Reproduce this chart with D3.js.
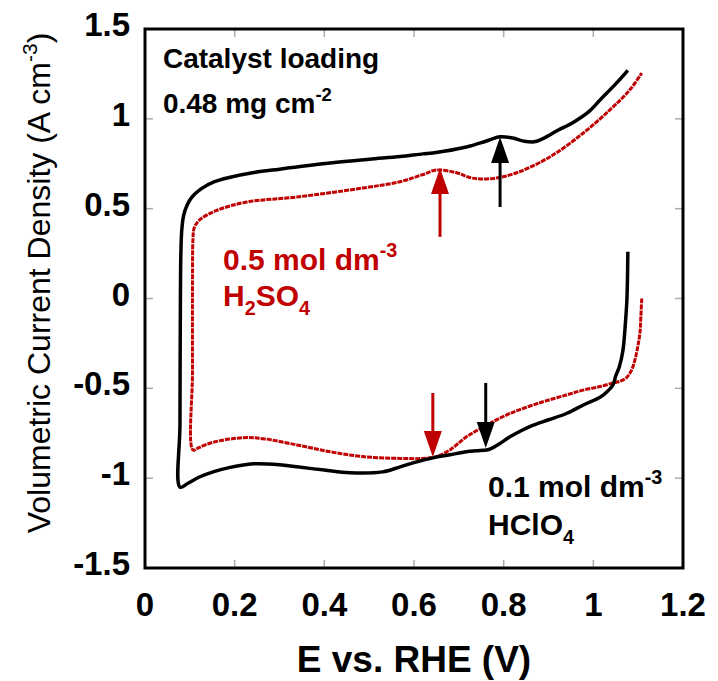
<!DOCTYPE html>
<meta charset="utf-8">
<style>
body { margin: 0; background: #fff; }
text { font-family: "Liberation Sans", Arial, Helvetica, sans-serif; }
</style>
<body>
<script src="https://d3js.org/d3.v7.min.js"></script>
<script>
const xTicks = [0, 0.2, 0.4, 0.6, 0.8, 1, 1.2];
const yTicks = [1.5, 1, 0.5, 0, -0.5, -1, -1.5];

// 0.1 mol dm-3 HClO4: from the upper vertex, cathodic sweep, then anodic sweep
const hclo4E = [1.077, 1.075, 1.072, 1.066, 1.058, 1.050, 1.044, 1.030, 1.015, 0.980, 0.940, 0.900, 0.866, 0.840,
  0.814, 0.790, 0.772, 0.762, 0.740, 0.717, 0.680, 0.642, 0.598, 0.569, 0.530, 0.457, 0.400, 0.339, 0.300, 0.241,
  0.190, 0.152, 0.120, 0.095, 0.078,
  0.078, 0.079, 0.080, 0.082, 0.086, 0.094, 0.105, 0.125, 0.155, 0.190, 0.240, 0.300, 0.413, 0.500, 0.569, 0.620,
  0.642, 0.717, 0.760, 0.792, 0.820, 0.845, 0.868, 0.890, 0.920, 0.955, 0.990, 1.015, 1.052, 1.077];
const hclo4J = [0.26, 0.00, -0.12, -0.29, -0.38, -0.43, -0.48, -0.52, -0.55, -0.59, -0.64, -0.675, -0.705, -0.735,
  -0.77, -0.81, -0.835, -0.843, -0.848, -0.853, -0.87, -0.887, -0.915, -0.937, -0.965, -0.97, -0.955, -0.937, -0.925, -0.92,
  -0.94, -0.965, -0.995, -1.03, -1.05,
  -0.70, 0.00, 0.25, 0.38, 0.46, 0.52, 0.565, 0.61, 0.65, 0.675, 0.70, 0.72, 0.754, 0.775, 0.79, 0.805,
  0.81, 0.843, 0.875, 0.90, 0.893, 0.876, 0.872, 0.893, 0.935, 0.98, 1.04, 1.105, 1.20, 1.27];

// 0.5 mol dm-3 H2SO4
const h2so4E = [1.108, 1.106, 1.104, 1.099, 1.093, 1.085, 1.074, 1.060, 1.044, 1.015, 0.977, 0.940, 0.881, 0.814,
  0.762, 0.717, 0.680, 0.650, 0.620, 0.569, 0.486, 0.413, 0.339, 0.263, 0.219, 0.152, 0.120, 0.107,
  0.106, 0.106, 0.107, 0.110, 0.123, 0.160, 0.227, 0.339, 0.486, 0.569, 0.620, 0.650, 0.695, 0.730, 0.776, 0.829,
  0.903, 0.977, 1.037, 1.081, 1.108];
const h2so4J = [0.00, -0.10, -0.19, -0.27, -0.34, -0.40, -0.44, -0.46, -0.47, -0.49, -0.51, -0.537, -0.58, -0.64,
  -0.705, -0.77, -0.843, -0.88, -0.89, -0.89, -0.88, -0.853, -0.815, -0.78, -0.775, -0.80, -0.83, -0.843,
  -0.40, 0.10, 0.33, 0.395, 0.44, 0.49, 0.537, 0.565, 0.615, 0.65, 0.69, 0.715, 0.70, 0.67, 0.668, 0.70,
  0.788, 0.92, 1.05, 1.16, 1.255];

// peak arrows: E, tail j, tip j
const arrowE = [0.792, 0.658, 0.642, 0.760];
const arrowFrom = [0.509, 0.343, -0.526, -0.470];
const arrowTo = [0.899, 0.727, -0.882, -0.832];
const arrowColor = ["#000", "#c00000", "#c00000", "#000"];

const red = "#c00000";

const W = 718, H = 681;
const margin = {top: 29, right: 35, bottom: 113, left: 145};
const width = W - margin.left - margin.right,
      height = H - margin.top - margin.bottom;

const x = d3.scaleLinear().domain([0, 1.2]).range([0, width]);
const y = d3.scaleLinear().domain([-1.5, 1.5]).range([height, 0]);

const svg = d3.select("body").append("svg")
    .attr("width", W).attr("height", H);
const g = svg.append("g")
    .attr("transform", "translate(" + margin.left + "," + margin.top + ")");

// inward gray ticks on all four sides
const tickCol = "#aaa", tl = 8;
g.selectAll(".xt").data(xTicks.slice(1, -1)).enter().append("g").each(function(d) {
  const s = d3.select(this);
  s.append("line").attr("x1", x(d)).attr("x2", x(d)).attr("y1", height).attr("y2", height - tl);
  s.append("line").attr("x1", x(d)).attr("x2", x(d)).attr("y1", 0).attr("y2", tl);
}).selectAll("line").attr("stroke", tickCol).attr("stroke-width", 1.5);
g.selectAll(".yt").data(yTicks.slice(1, -1)).enter().append("g").each(function(d) {
  const s = d3.select(this);
  s.append("line").attr("y1", y(d)).attr("y2", y(d)).attr("x1", 0).attr("x2", tl);
  s.append("line").attr("y1", y(d)).attr("y2", y(d)).attr("x1", width).attr("x2", width - tl);
}).selectAll("line").attr("stroke", tickCol).attr("stroke-width", 1.5);

// tick labels
g.selectAll(".xl").data(xTicks).enter().append("text")
    .attr("x", d => x(d)).attr("y", height + 48)
    .attr("text-anchor", "middle")
    .style("font-size", "33px").style("font-weight", "bold")
    .text(d => d);
g.selectAll(".yl").data(yTicks).enter().append("text")
    .attr("x", -15).attr("y", d => y(d) + 7)
    .attr("text-anchor", "end")
    .style("font-size", "33px").style("font-weight", "bold")
    .text(d => d);

// curves
const line = d3.line()
    .x(d => x(d[0])).y(d => y(d[1]))
    .curve(d3.curveCatmullRom.alpha(0.5));

g.append("path")
    .datum(h2so4E.map((e, i) => [e, h2so4J[i]]))
    .attr("fill", "none").attr("stroke", red)
    .attr("stroke-width", 3).attr("stroke-dasharray", "5,1")
    .attr("d", line);
g.append("path")
    .datum(hclo4E.map((e, i) => [e, hclo4J[i]]))
    .attr("fill", "none").attr("stroke", "#000")
    .attr("stroke-width", 3.5).attr("stroke-linejoin", "round")
    .attr("d", line);

// arrows
arrowE.forEach((e, i) => {
  const px = x(e), y0 = y(arrowFrom[i]), y1 = y(arrowTo[i]);
  const dir = y1 < y0 ? 1 : -1, hl = 26, hw = 9;
  g.append("line")
      .attr("x1", px).attr("x2", px).attr("y1", y0).attr("y2", y1 + dir * hl)
      .attr("stroke", arrowColor[i]).attr("stroke-width", 3);
  g.append("path")
      .attr("d", "M" + px + "," + y1 + "L" + (px - hw) + "," + (y1 + dir * hl) + "L" + (px + hw) + "," + (y1 + dir * hl) + "Z")
      .attr("fill", arrowColor[i]);
});

// annotations
function label(e, j, color, size, parts) {
  const t = g.append("text")
      .attr("x", x(e)).attr("y", y(j))
      .attr("fill", color)
      .style("font-size", size + "px").style("font-weight", "bold");
  parts.forEach(p => {
    const ts = t.append("tspan").text(p[0]);
    if (p[1] === "sup") ts.style("font-size", (size * 0.66) + "px").attr("dy", -size * 0.42);
    else if (p[1] === "sub") ts.style("font-size", (size * 0.66) + "px").attr("dy", size * 0.3);
    else if (p[1] === "back") ts.attr("dy", -size * 0.3);
  });
}
label(0.040, 1.283, "#000", 28, [["Catalyst loading"]]);
label(0.040, 1.033, "#000", 28, [["0.48 mg cm"], ["-2", "sup"]]);
label(0.174, 0.159, red, 30, [["0.5 mol dm"], ["-3", "sup"]]);
label(0.174, -0.041, red, 30, [["H"], ["2", "sub"], ["SO", "back"], ["4", "sub"]]);
label(0.765, -1.104, "#000", 30, [["0.1 mol dm"], ["-3", "sup"]]);
label(0.765, -1.316, "#000", 30, [["HClO"], ["4", "sub"]]);

// frame
g.append("rect")
    .attr("width", width).attr("height", height)
    .attr("fill", "none").attr("stroke", "#000").attr("stroke-width", 3);

// axis titles
svg.append("text")
    .attr("x", margin.left + width / 2).attr("y", 672)
    .attr("text-anchor", "middle")
    .style("font-size", "37px").style("font-weight", "bold")
    .text("E vs. RHE (V)");
const yt = svg.append("text")
    .attr("transform", "translate(50," + 283 + ") rotate(-90)")
    .attr("text-anchor", "middle")
    .style("font-size", "32px");
yt.append("tspan").text("Volumetric Current Density (A cm");
yt.append("tspan").text("-3").style("font-size", "21px").attr("dy", -13);
yt.append("tspan").text(")").attr("dy", 13);
</script>
